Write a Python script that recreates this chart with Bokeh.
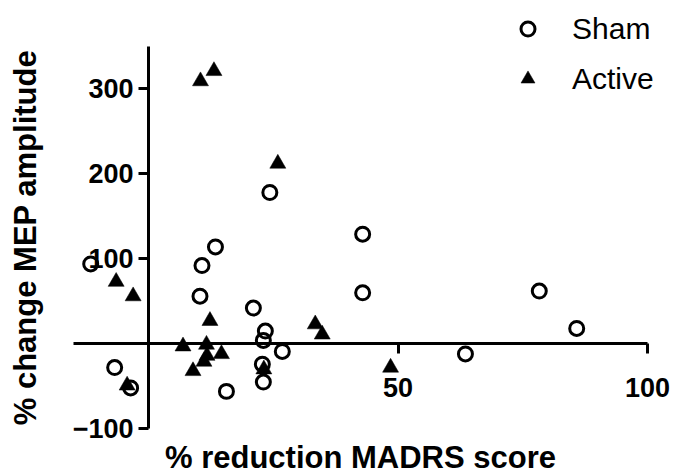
from bokeh.plotting import figure
from bokeh.models import Range1d, FixedTicker, Legend, LegendItem
from bokeh.embed import file_html
from bokeh.resources import INLINE

# ---- data ----
sham_x = [-11.6, -6.8, -3.6, 10.7, 13.4, 10.3, 21.0, 23.4, 23.0, 26.8, 22.8, 23.0, 15.6, 24.3, 42.9, 42.9, 78.3, 85.8, 63.5]
sham_y = [94, -28, -52, 92, 114, 56, 42, 15, 4, -9, -24, -45, -56, 178, 129, 60, 62, 18, -12]

active_x = [-6.5, -3.1, -4.3, 6.9, 8.9, 12.3, 11.6, 11.7, 11.1, 14.6, 23.1, 33.4, 34.8, 10.4, 13.1, 25.9, 48.5]
active_y = [73, 56, -49, -3, -32, 27, -1, -14, -21, -12, -30, 23, 11, 309, 321, 212, -28]

x_ticks = [50, 100]
y_ticks = [-100, 100, 200, 300]
x_label = "% reduction MADRS score"
y_label = "% change MEP amplitude"
series_names = ["Sham", "Active"]

FONT = "Liberation Sans"

p = figure(
    width=676, height=474,
    min_border_left=0, min_border_right=0, min_border_top=0, min_border_bottom=0,
    x_range=Range1d(-29.68, 105.8), y_range=Range1d(-153.8, 403.9),
    output_backend="svg", toolbar_location=None,
)
p.outline_line_color = None
p.xgrid.visible = False
p.ygrid.visible = False

r_sham = p.scatter(sham_x, sham_y, marker="circle", size=14, fill_color=None,
                   line_color="black", line_width=3)
r_act = p.scatter(active_x, active_y, marker="triangle", size=16, fill_color="black",
                  line_color="black", line_width=0.5)

for ax, ticks, bounds in ((p.xaxis[0], x_ticks, (-15, 100)), (p.yaxis[0], y_ticks, (-100, 350))):
    ax.fixed_location = 0
    ax.bounds = bounds
    ax.ticker = FixedTicker(ticks=ticks)
    ax.minor_tick_line_color = None
    ax.major_tick_in = 0
    ax.major_tick_out = 10
    ax.major_tick_line_width = 3
    ax.axis_line_width = 3
    ax.axis_line_color = "black"
    ax.major_tick_line_color = "black"
    ax.major_label_text_font = FONT
    ax.major_label_text_font_style = "bold"
    ax.major_label_text_font_size = "27px"
    ax.major_label_text_color = "black"
    ax.axis_label_text_font = FONT
    ax.axis_label_text_font_style = "bold"
    ax.axis_label_text_font_size = "31px"
    ax.axis_label_text_color = "black"

p.xaxis[0].axis_label = x_label
p.yaxis[0].axis_label = y_label
p.xaxis[0].major_label_standoff = 24
p.yaxis[0].major_label_standoff = 5
p.xaxis[0].axis_label_standoff = 40
p.yaxis[0].axis_label_standoff = 27

legend = Legend(
    items=[LegendItem(label=series_names[0], renderers=[r_sham]),
           LegendItem(label=series_names[1], renderers=[r_act])],
    location=(510, 378),
    padding=0, margin=0, spacing=15,
    border_line_color=None, background_fill_alpha=0,
    label_text_font=FONT, label_text_font_size="30px", label_text_color="black",
    label_standoff=27, glyph_width=35, glyph_height=35,
)
p.add_layout(legend)

open("out.html", "w").write(file_html(p, INLINE))
